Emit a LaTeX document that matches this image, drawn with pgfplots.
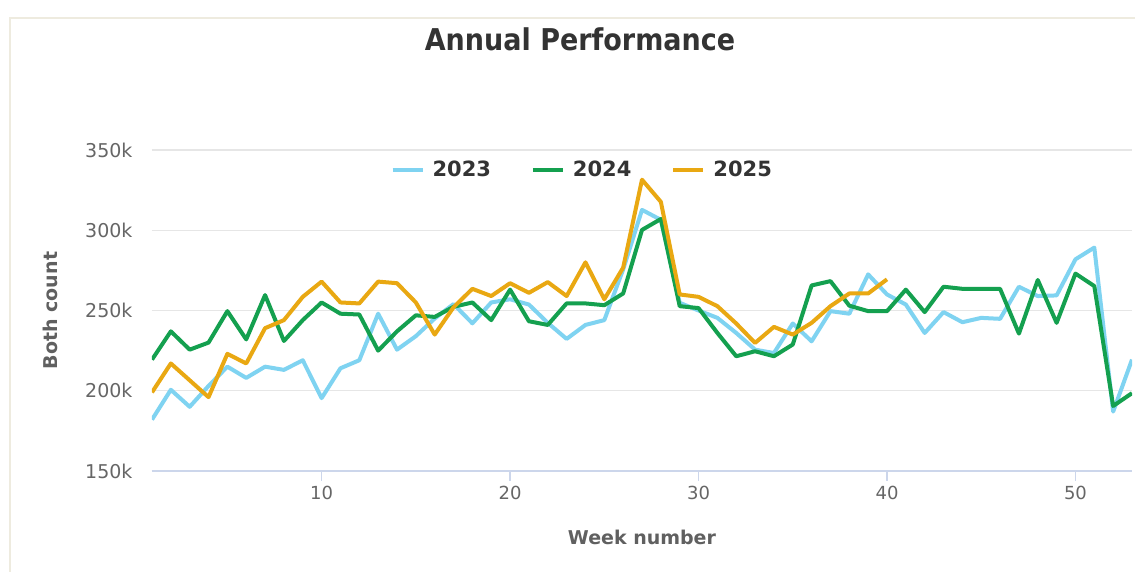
\documentclass[border=0pt]{standalone}
\usepackage{fontspec}
\setmainfont{DejaVu Sans}
\usepackage{graphicx}
\usepackage{pgfplots}
\pgfplotsset{compat=1.18}
\definecolor{c23}{HTML}{7FD3F1}
\definecolor{c24}{HTML}{14A04F}
\definecolor{c25}{HTML}{E9A812}
\definecolor{gridc}{HTML}{E6E6E6}
\definecolor{axisc}{HTML}{CCD6EB}
\definecolor{tickc}{HTML}{666666}
\definecolor{labelc}{HTML}{606060}
\definecolor{titlec}{HTML}{333333}
\definecolor{framec}{HTML}{EEEBDF}
\begin{document}
\begin{tikzpicture}[x=1pt,y=1pt]
\useasboundingbox (0,0) rectangle (1135,572);
\fill[white] (0,0) rectangle (1135,572);
\draw[framec, line width=1.5pt] (10,0) -- (10,554) -- (1135,554);
\node[titlec] at (580,533) {\scalebox{0.9}[1]{\fontsize{30}{36}\selectfont\bfseries Annual Performance}};
\begin{axis}[
  at={(152pt,101pt)}, anchor=south west,
  width=980pt, height=321pt, scale only axis,
  xmin=1, xmax=53, ymin=150, ymax=350,
  axis x line*=bottom, axis y line*=left,
  x axis line style={axisc, line width=1.2pt, -},
  y axis line style={draw=none, -},
  xtick={10,20,30,40,50},
  xticklabels={10,20,30,40,50},
  ytick={150,200,250,300,350},
  yticklabels={150k,200k,250k,300k,350k},
  tick align=outside,
  xtick style={axisc, line width=1.2pt},
  ytick style={draw=none},
  major tick length=10pt,
  ymajorgrids, grid style={gridc, line width=1.2pt},
  xticklabel style={font=\fontsize{18}{20}\selectfont, text=tickc, yshift=-2pt},
  yticklabel style={font=\fontsize{19}{20}\selectfont, text=tickc, xshift=-6pt},
  xlabel={Week number}, ylabel={Both count},
  xlabel style={at={(axis description cs:0.5,-0.2056)}, anchor=center, font=\fontsize{19}{22}\selectfont\bfseries, text=labelc},
  ylabel style={at={(axis description cs:-0.104,0.5)}, anchor=center, rotate=0, font=\fontsize{19}{22}\selectfont\bfseries, text=labelc},
  legend style={at={(axis description cs:0.439,0.938)}, anchor=center, draw=none, fill=none,
    font=\fontsize{21}{24}\selectfont\bfseries, text=titlec,
    /tikz/every odd column/.append style={column sep=6pt},
    /tikz/every even column/.append style={column sep=38pt}},
  legend columns=3,
  legend image code/.code={\draw[#1] (0pt,0pt) -- (30pt,0pt);},
  every axis plot/.append style={line width=4pt, line join=round, mark=none},
  clip=true,
]
\addplot[c23] coordinates {
(1,182) (2,200.6) (3,190) (4,203) (5,215) (6,208) (7,215) (8,213) (9,219) (10,195.4)
(11,214) (12,219) (13,248) (14,225.6) (15,234) (16,245) (17,254) (18,242) (19,255) (20,257)
(21,253.7) (22,242.3) (23,232.3) (24,241) (25,244) (26,275.6) (27,312.7) (28,306.5) (29,254.8) (30,250)
(31,245.4) (32,236) (33,225.6) (34,223.5) (35,241.9) (36,230.8) (37,249.6) (38,248) (39,272.5) (40,260)
(41,253.7) (42,236) (43,249) (44,242.7) (45,245.4) (46,244.8) (47,264.8) (48,259) (49,259.4) (50,281.9)
(51,289.2) (52,187) (53,219.4)
};
\addlegendentry{2023}
\addplot[c24] coordinates {
(1,219.4) (2,237) (3,225.6) (4,230) (5,249.6) (6,232) (7,259.6) (8,231) (9,244) (10,255)
(11,248) (12,247.5) (13,225) (14,237) (15,247) (16,246) (17,252.3) (18,255) (19,244) (20,263)
(21,243.3) (22,241) (23,254.4) (24,254.4) (25,253.3) (26,260.6) (27,300.2) (28,307) (29,252.7) (30,251.5)
(31,236) (32,221.5) (33,224.6) (34,221.5) (35,228.8) (36,265.6) (37,268.3) (38,253) (39,249.6) (40,249.6)
(41,263) (42,249) (43,264.8) (44,263.5) (45,263.5) (46,263.5) (47,235.6) (48,269) (49,242.3) (50,273)
(51,265.2) (52,190.5) (53,198.5)
};
\addlegendentry{2024}
\addplot[c25] coordinates {
(1,199) (2,217) (3,206.5) (4,196) (5,223) (6,217) (7,239) (8,244) (9,258.5) (10,268)
(11,255) (12,254.4) (13,268) (14,267) (15,255) (16,235) (17,252) (18,263.5) (19,259) (20,267)
(21,261) (22,267.7) (23,259) (24,280) (25,257) (26,276.7) (27,331.5) (28,317.7) (29,260) (30,258.5)
(31,252.7) (32,241.9) (33,229.8) (34,239.8) (35,235) (36,242.3) (37,252.7) (38,260.6) (39,260.6) (40,269.4)
};
\addlegendentry{2025}
\end{axis}
\end{tikzpicture}
\end{document}
